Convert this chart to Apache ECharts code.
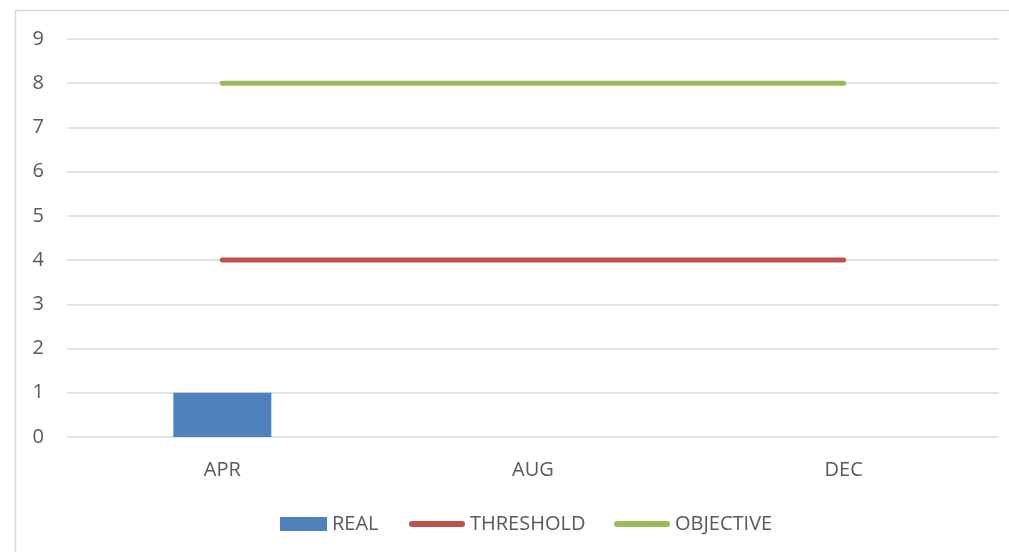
<!DOCTYPE html>
<html>
<head>
<meta charset="utf-8">
<script src="https://cdn.jsdelivr.net/npm/echarts@6/dist/echarts.min.js"></script>
<style>
html,body{margin:0;padding:0;background:#fff;}
#chart{width:1009px;height:552px;}
</style>
</head>
<body>
<div id="chart"></div>
<script>
const categories = ['APR', 'AUG', 'DEC'];
const realValues = [1, null, null];
const thresholdValues = [4, 4, 4];
const objectiveValues = [8, 8, 8];
const yTicks = [0, 1, 2, 3, 4, 5, 6, 7, 8, 9];

const FONT = '"Open Sans", "Noto Sans", sans-serif';
const TXT = '#595959';
const FS = 20;

const chart = echarts.init(document.getElementById('chart'), null, {renderer: 'canvas'});
chart.setOption({
  animation: false,
  backgroundColor: '#fff',
  graphic: [{
    type: 'rect',
    shape: {x: 15.5, y: 10.5, width: 1100, height: 600},
    style: {fill: 'none', stroke: '#d9d9d9', lineWidth: 1.5},
    silent: true,
    z: -1
  }],
  grid: {left: 67, right: 10, top: 39, bottom: 115, containLabel: false},
  xAxis: {
    type: 'category',
    data: categories,
    axisLine: {show: false},
    axisTick: {show: false},
    axisLabel: {color: TXT, fontFamily: FONT, fontSize: FS, margin: 23}
  },
  yAxis: {
    type: 'value',
    min: yTicks[0],
    max: yTicks[yTicks.length - 1],
    interval: 1,
    axisLine: {show: false},
    axisTick: {show: false},
    axisLabel: {color: TXT, fontFamily: FONT, fontSize: FS, margin: 23},
    splitLine: {lineStyle: {color: '#d9d9d9', width: 1.5}}
  },
  legend: [
    {data: [{name: 'REAL', icon: 'rect'}], left: 275, top: 509, itemWidth: 47, itemHeight: 14, itemGap: 0,
     textStyle: {color: TXT, fontFamily: FONT, fontSize: FS}, selectedMode: false},
    {data: [{name: 'THRESHOLD', icon: 'path://M3,0 L53,0 A3,3 0 0 1 53,6 L3,6 A3,3 0 0 1 3,0 Z'}], left: 404, top: 509, itemWidth: 56, itemHeight: 6,
     textStyle: {color: TXT, fontFamily: FONT, fontSize: FS}, selectedMode: false},
    {data: [{name: 'OBJECTIVE', icon: 'path://M3,0 L53,0 A3,3 0 0 1 53,6 L3,6 A3,3 0 0 1 3,0 Z'}], left: 609, top: 509, itemWidth: 56, itemHeight: 6,
     textStyle: {color: TXT, fontFamily: FONT, fontSize: FS}, selectedMode: false}
  ],
  series: [
    {name: 'REAL', type: 'bar', data: realValues, barWidth: 98, itemStyle: {color: '#4f81bd'}},
    {name: 'THRESHOLD', type: 'line', data: thresholdValues, symbol: 'none',
     lineStyle: {color: '#c0504d', width: 5, cap: 'round'}, itemStyle: {color: '#c0504d'}},
    {name: 'OBJECTIVE', type: 'line', data: objectiveValues, symbol: 'none',
     lineStyle: {color: '#9bbb59', width: 5, cap: 'round'}, itemStyle: {color: '#9bbb59'}}
  ]
});
</script>
</body>
</html>
